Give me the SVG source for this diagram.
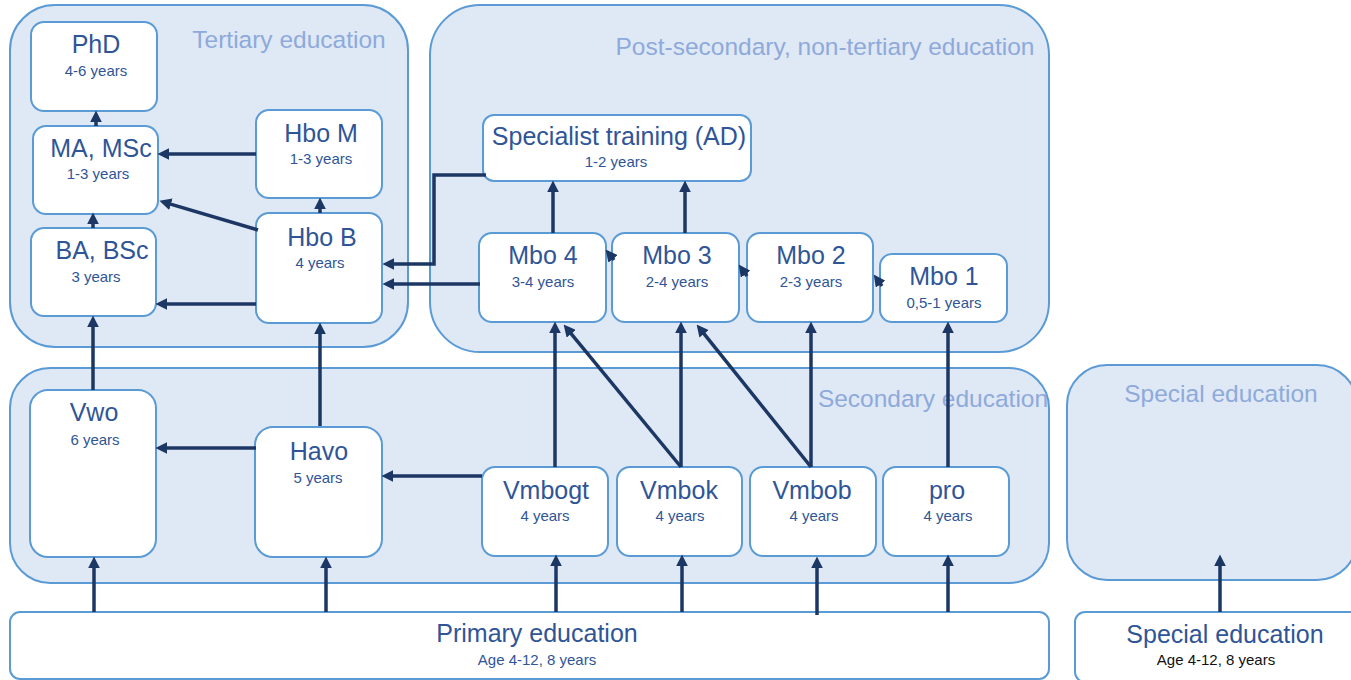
<svg xmlns="http://www.w3.org/2000/svg" width="1351" height="680" viewBox="0 0 1351 680">
<style>
.cont{fill:#dfe8f5;stroke:#5b9bd5;stroke-width:2}
.node{fill:#ffffff;stroke:#5b9bd5;stroke-width:2}
.ct{font-family:"Liberation Sans",Arial,sans-serif;font-size:24.5px;fill:#8eaadb;text-anchor:middle}
.t{font-family:"Liberation Sans",Arial,sans-serif;font-size:25px;fill:#2f5597;text-anchor:middle}
.s{font-family:"Liberation Sans",Arial,sans-serif;font-size:15px;fill:#2f5597;text-anchor:middle}
.sb{font-family:"Liberation Sans",Arial,sans-serif;font-size:15px;fill:#111111;text-anchor:middle}
.c{fill:none;stroke:#1c3764;stroke-width:3.5;marker-end:url(#ah)}
</style>
<defs>
<marker id="ah" viewBox="0 0 10 10" refX="4" refY="5" markerWidth="12" markerHeight="12" markerUnits="userSpaceOnUse" orient="auto">
<path d="M0,0 L10,5 L0,10 z" fill="#1c3764"/>
</marker>
</defs>

<g id="tertiary">
<rect class="cont" x="10" y="5" width="398" height="342" rx="45"/>
<text class="ct" x="289" y="48">Tertiary education</text>
</g>
<g id="postsecondary">
<rect class="cont" x="430" y="5" width="619" height="347" rx="50"/>
<text class="ct" x="825" y="55">Post-secondary, non-tertiary education</text>
</g>
<g id="secondary">
<rect class="cont" x="10" y="368" width="1039" height="215" rx="40"/>
</g>
<g id="special-container">
<rect class="cont" x="1067" y="365" width="290" height="215" rx="40"/>
<text class="ct" x="1221" y="402">Special education</text>
</g>

<g id="phd"><rect class="node" x="31" y="22" width="126" height="89" rx="13"/><text class="t" x="96" y="53">PhD</text><text class="s" x="96" y="76">4-6 years</text></g>
<g id="ma"><rect class="node" x="33" y="126" width="125" height="88" rx="13"/><text class="t" x="101" y="157">MA, MSc</text><text class="s" x="98" y="179">1-3 years</text></g>
<g id="ba"><rect class="node" x="31" y="228" width="125" height="88" rx="13"/><text class="t" x="102" y="259">BA, BSc</text><text class="s" x="96" y="282">3 years</text></g>
<g id="hbom"><rect class="node" x="256" y="110" width="126" height="88" rx="13"/><text class="t" x="321" y="142">Hbo M</text><text class="s" x="321" y="164">1-3 years</text></g>
<g id="hbob"><rect class="node" x="256" y="213" width="126" height="110" rx="13"/><text class="t" x="322" y="246">Hbo B</text><text class="s" x="320" y="268">4 years</text></g>
<g id="specialist"><rect class="node" x="483" y="115" width="268" height="66" rx="11"/><text class="t" x="619" y="145">Specialist training (AD)</text><text class="s" x="616" y="167">1-2 years</text></g>
<g id="mbo4"><rect class="node" x="479" y="233" width="127" height="89" rx="13"/><text class="t" x="543" y="264">Mbo 4</text><text class="s" x="543" y="287">3-4 years</text></g>
<g id="mbo3"><rect class="node" x="612" y="233" width="127" height="89" rx="13"/><text class="t" x="677" y="264">Mbo 3</text><text class="s" x="677" y="287">2-4 years</text></g>
<g id="mbo2"><rect class="node" x="747" y="233" width="126" height="89" rx="13"/><text class="t" x="811" y="264">Mbo 2</text><text class="s" x="811" y="287">2-3 years</text></g>
<g id="mbo1"><rect class="node" x="880" y="254" width="127" height="68" rx="12"/><text class="t" x="944" y="285">Mbo 1</text><text class="s" x="944" y="308">0,5-1 years</text></g>

<text class="ct" x="933" y="407">Secondary education</text>

<g id="vwo"><rect class="node" x="30" y="390" width="126" height="167" rx="18"/><text class="t" x="94" y="421">Vwo</text><text class="s" x="95" y="445">6 years</text></g>
<g id="havo"><rect class="node" x="255" y="427" width="127" height="130" rx="18"/><text class="t" x="319" y="460">Havo</text><text class="s" x="318" y="483">5 years</text></g>
<g id="vmbogt"><rect class="node" x="482" y="467" width="126" height="89" rx="13"/><text class="t" x="546" y="499">Vmbogt</text><text class="s" x="545" y="521">4 years</text></g>
<g id="vmbok"><rect class="node" x="617" y="467" width="125" height="89" rx="13"/><text class="t" x="679" y="499">Vmbok</text><text class="s" x="680" y="521">4 years</text></g>
<g id="vmbob"><rect class="node" x="750" y="467" width="126" height="89" rx="13"/><text class="t" x="812" y="499">Vmbob</text><text class="s" x="814" y="521">4 years</text></g>
<g id="pro"><rect class="node" x="883" y="467" width="126" height="89" rx="13"/><text class="t" x="947" y="499">pro</text><text class="s" x="948" y="521">4 years</text></g>

<g id="primary"><rect class="node" x="10" y="612" width="1039" height="67" rx="10"/><text class="t" x="537" y="642">Primary education</text><text class="s" x="537" y="665">Age 4-12, 8 years</text></g>
<g id="special"><rect class="node" x="1075" y="612" width="285" height="70" rx="10"/><text class="t" x="1225" y="643">Special education</text><text class="sb" x="1216" y="665">Age 4-12, 8 years</text></g>

<g id="connectors">
<path class="c" d="M93,228 L93,219.6"/>
<path class="c" d="M96,126 L96,117.6"/>
<path class="c" d="M320,213 L320,204.6"/>
<path class="c" d="M553,233 L553,187.6"/>
<path class="c" d="M685,233 L685,187.6"/>
<path class="c" d="M555,467 L555,328.6"/>
<path class="c" d="M681,467 L681,328.6"/>
<path class="c" d="M811,467 L811,328.6"/>
<path class="c" d="M948,467 L948,328.6"/>
<path class="c" d="M320,426 L320,329.6"/>
<path class="c" d="M93,390 L93,322.6"/>
<path class="c" d="M94,612 L94,563.6"/>
<path class="c" d="M326,612 L326,563.6"/>
<path class="c" d="M556,612 L556,561.6"/>
<path class="c" d="M682,612 L682,561.6"/>
<path class="c" d="M817,615 L817,563.6"/>
<path class="c" d="M948,612 L948,561.6"/>
<path class="c" d="M1220,612 L1220,561.6"/>
<path class="c" d="M256,154 L164.6,154"/>
<path class="c" d="M256,304 L162.6,304"/>
<path class="c" d="M480,284 L389.6,284"/>
<path class="c" d="M256,448 L162.6,448"/>
<path class="c" d="M482,476 L388.6,476"/>
<path class="c" d="M486,175 L434,175 L434,264 L389.6,264"/>
<path class="c" d="M258,230 L166.3,202.9"/>
<path class="c" d="M681,467 L568.2,330.1"/>
<path class="c" d="M811,467 L701.1,330.1"/>
<path class="c" d="M614,260 L610.1,255.1"/>
<path class="c" d="M747,276 L742.9,270.3"/>
<path class="c" d="M882,286 L877.9,280.3"/>
</g>
</svg>
